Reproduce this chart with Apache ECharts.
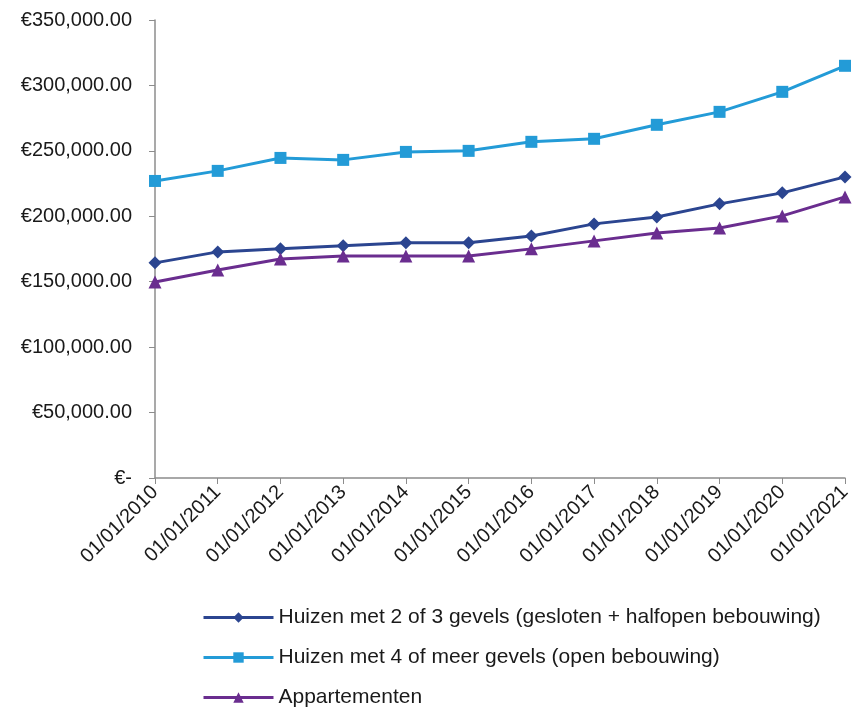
<!DOCTYPE html>
<html>
<head>
<meta charset="utf-8">
<script src="https://cdn.jsdelivr.net/npm/echarts@6/dist/echarts.min.js"></script>
<style>html,body{margin:0;padding:0;background:#fff}#c{width:855px;height:713px}</style>
</head>
<body>
<div id="c"></div>
<script>
const categories = ['01/01/2010','01/01/2011','01/01/2012','01/01/2013','01/01/2014','01/01/2015','01/01/2016','01/01/2017','01/01/2018','01/01/2019','01/01/2020','01/01/2021'];
const seriesNames = ['Huizen met 2 of 3 gevels (gesloten + halfopen bebouwing)','Huizen met 4 of meer gevels (open bebouwing)','Appartementen'];
const huizen23 = [164400,172800,175100,177400,179700,179700,185000,194200,199500,209500,217900,230100];
const huizen4 = [227000,234700,244600,243100,249200,250000,256900,259200,269900,279800,295100,315000];
const appartementen = [149800,159000,167400,169700,169700,169700,175100,181200,187300,191100,200300,214800];
const yTicks = [0,50000,100000,150000,200000,250000,300000,350000];

function fmt(v){
  if (v === 0) return '€-';
  return '€' + v.toLocaleString('en-US') + '.00';
}
const chart = echarts.init(document.getElementById('c'));
const font = 'Liberation Sans, Arial, sans-serif';
chart.setOption({
  animation:false,
  textStyle:{fontFamily:font},
  grid:{left:155,right:10,top:20,bottom:235,containLabel:false},
  xAxis:{type:'category',data:categories,boundaryGap:false,
    axisLine:{lineStyle:{color:'#8c8c8c',width:1.5}},
    axisTick:{show:true,length:6,lineStyle:{color:'#8c8c8c'}},
    axisLabel:{rotate:45,color:'#1a1a1a',fontSize:20,fontFamily:font,margin:11}},
  yAxis:{type:'value',min:yTicks[0],max:yTicks[yTicks.length-1],interval:50000,
    axisLine:{show:true,lineStyle:{color:'#8c8c8c',width:1.5}},
    axisTick:{show:true,length:6,lineStyle:{color:'#8c8c8c'}},
    splitLine:{show:false},
    axisLabel:{formatter:fmt,color:'#1a1a1a',fontSize:20,fontFamily:font,margin:23}},
  legend:{orient:'vertical',left:202,top:607,height:160,padding:0,itemGap:19,itemWidth:70,itemHeight:13,
    lineStyle:{width:3},
    textStyle:{fontSize:21,color:'#1a1a1a',fontFamily:font},
    data:seriesNames},
  series:[
    {name:seriesNames[0],type:'line',data:huizen23,symbol:'diamond',symbolSize:13,
      lineStyle:{color:'#2b4590',width:3},itemStyle:{color:'#2b4590'}},
    {name:seriesNames[1],type:'line',data:huizen4,symbol:'rect',symbolSize:12,
      lineStyle:{color:'#239bd7',width:3},itemStyle:{color:'#239bd7'}},
    {name:seriesNames[2],type:'line',data:appartementen,symbol:'triangle',symbolSize:13,
      lineStyle:{color:'#6a2d8f',width:3},itemStyle:{color:'#6a2d8f'}}
  ]
});
</script>
</body>
</html>
